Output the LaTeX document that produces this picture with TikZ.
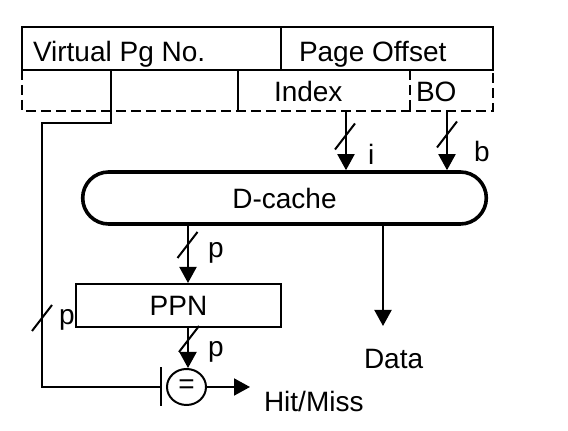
\documentclass[tikz,border=0pt]{standalone}
\usepackage{fontspec}
\setmainfont{Liberation Sans}
\usetikzlibrary{arrows.meta,positioning,shapes.misc,shapes.geometric}

\begin{document}
\begin{tikzpicture}[x=0.5pt,y=-0.5pt,line width=1pt,
    font=\fontsize{14}{16.8}\selectfont,
    lbl/.style={inner sep=0pt,anchor=base west},
    bus/.style={-{Triangle[width=8.5pt,length=8pt]}},
    dashline/.style={dash pattern=on 5pt off 2.5pt},
    busmark/.pic={\draw (-10,13) -- (10,-13);}]
    \useasboundingbox (0,0) rectangle (568,431);

    % virtual address fields
    \draw (22,27) rectangle (493,70);
    \draw (281,27) -- (281,70);
    \draw[dashline] (22,70) -- (22,111) -- (493,111) -- (493,70);
    \draw (238,70) -- (238,111);
    \draw[dashline] (410,70) -- (410,111);
    \node[lbl] (vpn) at (32,62) {Virtual Pg No.};
    \node[lbl] (off) at (298,62) {Page Offset};
    \node[lbl] (idx) at (273,102) {Index};
    \node[lbl] (bo) at (415,102) {BO};
    \coordinate (vpnout) at (111,70);
    \coordinate (idxout) at (346,111);
    \coordinate (boout) at (447,111);

    % blocks
    \node[draw,rounded rectangle,line width=1.8pt,minimum width=208.5pt,minimum height=26pt] (dcache) at (284.5,198) {D-cache};
    \node[draw,minimum width=102.5pt,minimum height=21.5pt] (ppn) at (178.5,305.5) {PPN};
    \node[draw,ellipse,inner sep=0pt,minimum width=19.5pt,minimum height=18pt] (eq) at (186.5,387) {=};
    \coordinate (dataend) at (383,326);
    \coordinate (hmend) at (250,387);

    % wires
    \draw[bus] (idxout) -- (idxout |- dcache.north);
    \draw[bus] (boout) -- (boout |- dcache.north);
    \draw[bus] (188,0 |- dcache.south) -- (188,0 |- ppn.north);
    \draw[bus] (dataend |- dcache.south) -- (dataend);
    \draw[bus] (188,0 |- ppn.south) -- (188,0 |- eq.north);
    \draw[bus] (eq.east) -- (hmend);
    \draw[-{Bar[width=19.5pt]},shorten >=2pt] (vpnout) -- (111,123) -- (42,123) |- (eq.west);

    % bus widths
    \pic at (345,136.5) {busmark};
    \pic at (447,134.5) {busmark};
    \pic at (187.5,245) {busmark};
    \pic at (189,339) {busmark};
    \pic at (42,318) {busmark};
    \node[lbl] (ilbl) at (367,165) {i};
    \node[lbl] (blbl) at (473,162) {b};
    \node[lbl] (pa) at (207,258) {p};
    \node[lbl] (pb) at (207,357) {p};
    \node[lbl] (pc) at (58,325) {p};

    \node[lbl] (data) at (363,369) {Data};
    \node[lbl] (hm) at (263,412) {Hit/Miss};
\end{tikzpicture}
\end{document}
